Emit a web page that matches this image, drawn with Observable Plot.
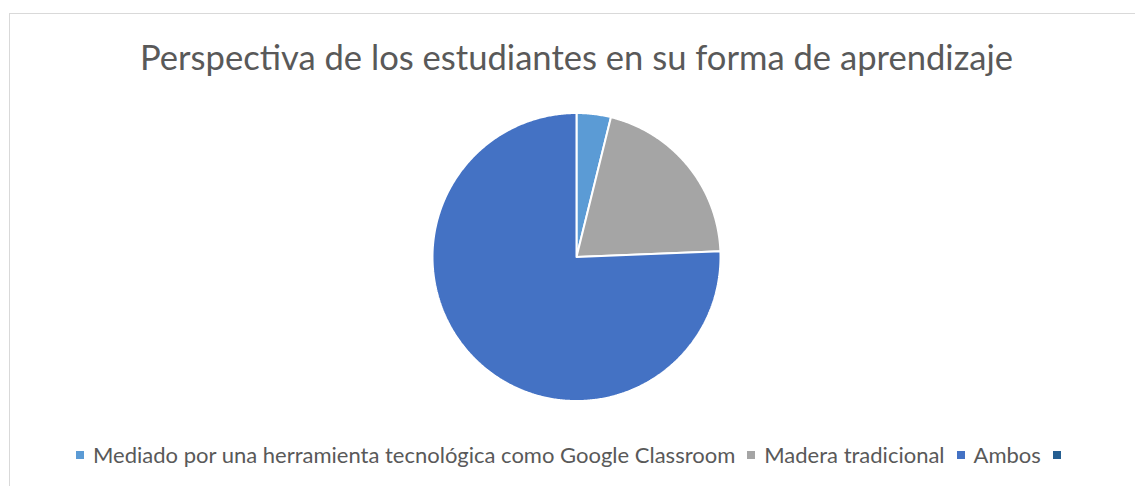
<!DOCTYPE html>
<html>
<head>
<meta charset="utf-8">
<script src="https://cdn.jsdelivr.net/npm/d3@7"></script>
<script src="https://cdn.jsdelivr.net/npm/@observablehq/plot@0.6"></script>
<style>
  html, body { margin: 0; padding: 0; background: #fff; width: 1135px; height: 486px; overflow: hidden; }
  #frame { position: absolute; left: 9px; top: 13px; width: 1200px; height: 600px;
           border-top: 1px solid #d9d9d9; border-left: 1px solid #d9d9d9; box-sizing: border-box; }
  #title { position: absolute; left: 9px; width: 1135px; top: 36px; text-align: center;
           font-family: Lato, "Open Sans", sans-serif; font-size: 34.6px; line-height: 1.2; color: #595959; white-space: nowrap; }
  #chart { position: absolute; left: 0; top: 106px; }
  #legend { position: absolute; left: 76px; top: 438px; white-space: nowrap; }
  .lg-swatches { margin: 0 !important; }
  .lg-swatch { margin-right: 12px !important; }
  .lg-swatch > svg { margin-right: 9px !important; }
</style>
</head>
<body>
<div id="frame"></div>
<div id="title">Perspectiva de los estudiantes en su forma de aprendizaje</div>
<div id="chart"></div>
<div id="legend"></div>
<script>
// ---- data ----
const categories = [
  "Mediado por una herramienta tecnológica como Google Classroom",
  "Madera tradicional",
  "Ambos",
  ""
];
const values = [3, 16, 59, 0];
const colors = ["#5B9BD5", "#A5A5A5", "#4472C4", "#255E91"];

// ---- layout ----
const W = 1135, H = 301, R = 144, CX = 576, CY = 150.5;
const arcs = d3.pie().sort(null).value(d => d.value)(
  categories.map((name, i) => ({name, value: values[i]}))
);
// build slice outlines (in unit-radius coordinates) from the pie angles
const pts = [];
for (const a of arcs) {
  if (a.endAngle - a.startAngle <= 0) continue;
  const name = a.data.name;
  pts.push({name, x: 0, y: 0});
  const n = Math.max(2, Math.ceil((a.endAngle - a.startAngle) / (Math.PI / 360)));
  for (let k = 0; k <= n; k++) {
    const t = a.startAngle + (a.endAngle - a.startAngle) * k / n;
    pts.push({name, x: Math.sin(t), y: Math.cos(t)});
  }
  pts.push({name, x: 0, y: 0});
}

const plot = Plot.plot({
  width: W, height: H,
  margin: 0,
  x: {domain: [-CX / R, (W - CX) / R], axis: null},
  y: {domain: [-(H - CY) / R, CY / R], axis: null},
  color: {domain: categories, range: colors},
  marks: [
    Plot.line(pts, {x: "x", y: "y", z: "name", fill: "name", stroke: "white", strokeWidth: 2, strokeLinejoin: "miter"})
  ]
});
document.getElementById("chart").appendChild(plot);

const legend = plot.legend("color", {
  legend: "swatches",
  swatchSize: 8,
  className: "lg",
  style: {fontSize: "22px", fontFamily: "Lato, 'Open Sans', sans-serif", color: "#595959"}
});
document.getElementById("legend").appendChild(legend);
</script>
</body>
</html>
